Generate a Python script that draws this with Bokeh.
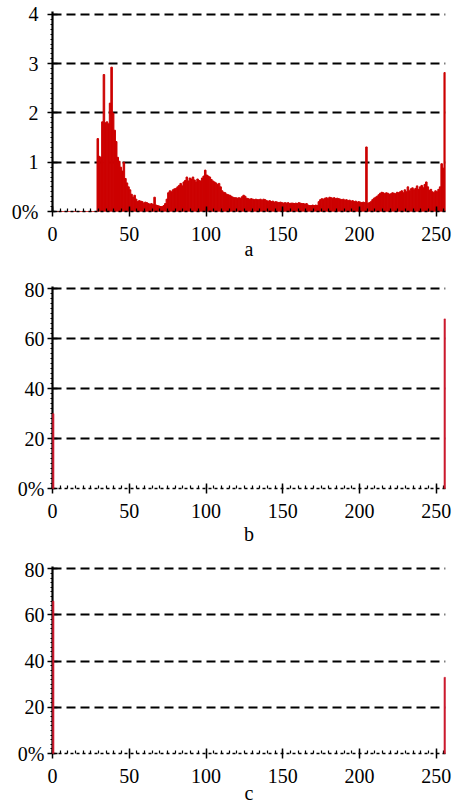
from bokeh.plotting import figure
from bokeh.layouts import column
from bokeh.models import FixedTicker, Range1d
from bokeh.embed import file_html
from bokeh.resources import INLINE

# ---------------- data (percent of pixels per grey level) ----------------
bins = list(range(256))
pct_a = [
    # 0-28
    0, 0, 0, 0, 0, 0, 0, 0, 0, 0, 0, 0, 0, 0, 0, 0, 0, 0, 0, 0,
    0, 0, 0, 0, 0, 0, 0, 0, 0,
    # 29-49
    1.48, 1.12, 1.10, 1.82, 2.78, 1.80, 1.82, 1.78, 2.20, 2.93,
    2.00, 1.65, 1.42, 1.10, 1.02, 0.90, 0.82, 1.00, 0.67, 0.58, 0.50,
    # 50-69
    0.44, 0.35, 0.29, 0.33, 0.25, 0.20, 0.22, 0.21, 0.20, 0.17,
    0.19, 0.18, 0.16, 0.15, 0.16, 0.14, 0.29, 0.13, 0.12, 0.11,
    # 70-89
    0.10, 0.10, 0.12, 0.16, 0.25, 0.38, 0.42, 0.40, 0.44, 0.46,
    0.47, 0.50, 0.53, 0.57, 0.52, 0.60, 0.63, 0.70, 0.62, 0.68,
    # 90-109
    0.66, 0.70, 0.64, 0.60, 0.66, 0.63, 0.62, 0.68, 0.72, 0.84,
    0.74, 0.72, 0.70, 0.65, 0.62, 0.60, 0.58, 0.55, 0.57, 0.50,
    # 110-129
    0.42, 0.39, 0.38, 0.35, 0.34, 0.33, 0.31, 0.29, 0.28, 0.28,
    0.27, 0.28, 0.27, 0.30, 0.33, 0.31, 0.27, 0.26, 0.25, 0.26,
    # 130-149
    0.25, 0.24, 0.25, 0.24, 0.24, 0.25, 0.23, 0.25, 0.24, 0.22,
    0.21, 0.22, 0.20, 0.21, 0.19, 0.20, 0.19, 0.18, 0.19, 0.18,
    # 150-169
    0.17, 0.18, 0.17, 0.18, 0.16, 0.17, 0.17, 0.16, 0.17, 0.16,
    0.18, 0.17, 0.16, 0.16, 0.15, 0.16, 0.13, 0.12, 0.12, 0.13,
    # 170-189
    0.12, 0.13, 0.12, 0.20, 0.24, 0.26, 0.25, 0.27, 0.28, 0.26,
    0.29, 0.28, 0.27, 0.28, 0.26, 0.27, 0.26, 0.25, 0.24, 0.25,
    # 190-209
    0.23, 0.24, 0.22, 0.23, 0.21, 0.22, 0.20, 0.21, 0.19, 0.20,
    0.19, 0.18, 0.19, 0.18, 1.31, 0.17, 0.18, 0.20, 0.24, 0.27,
    # 210-229
    0.29, 0.31, 0.34, 0.37, 0.39, 0.38, 0.36, 0.38, 0.37, 0.35,
    0.36, 0.38, 0.37, 0.36, 0.39, 0.38, 0.40, 0.42, 0.38, 0.44,
    # 230-249
    0.40, 0.50, 0.42, 0.46, 0.48, 0.44, 0.47, 0.52, 0.45, 0.50,
    0.53, 0.48, 0.55, 0.60, 0.50, 0.43, 0.45, 0.40, 0.38, 0.42,
    # 250-255
    0.40, 0.45, 0.50, 0.97, 0.88, 2.82,
]
b_bins = [0, 255]
b_pct = [30, 68]
c_bins = [0, 255]
c_pct = [66, 33]

x_ticks = [0, 50, 100, 150, 200, 250]
a_yticks = [0, 1, 2, 3, 4]
a_ylabels = ["0%", "1", "2", "3", "4"]
bc_yticks = [0, 20, 40, 60, 80]
bc_ylabels = ["0%", "20", "40", "60", "80"]
panel_labels = ["a", "b", "c"]

FONT = "'Liberation Serif', 'Times New Roman', serif"
RED_A = "#cc0000"
RED_BC = "#cc1a2e"


def make(height, top, bottom, ymax, yticks, ylabels, yminor, label,
         ystandoff, lab_standoff):
    p = figure(width=453, height=height, x_range=Range1d(0, 256),
               y_range=Range1d(0, ymax), output_backend="svg",
               toolbar_location=None, min_border_left=52,
               min_border_right=8, min_border_top=top,
               min_border_bottom=bottom)
    p.outline_line_color = None
    p.background_fill_color = "white"
    p.border_fill_color = "white"
    p.xgrid.visible = False
    p.ygrid.ticker = FixedTicker(ticks=yticks[1:])
    p.ygrid.grid_line_color = "black"
    p.ygrid.grid_line_width = 2
    p.ygrid.grid_line_dash = "9 5"

    xa = p.xaxis[0]
    xa.ticker = FixedTicker(ticks=x_ticks, minor_ticks=list(range(0, 256, 5)))
    xa.axis_line_color = "black"
    xa.axis_line_width = 1.5
    xa.axis_line_dash = "3 3"
    xa.major_tick_in = 5
    xa.major_tick_out = 5
    xa.major_tick_line_width = 1.5
    xa.minor_tick_in = 3
    xa.minor_tick_out = 0
    xa.minor_tick_line_width = 1.2
    xa.major_label_text_font = FONT
    xa.major_label_text_font_size = "20px"
    xa.major_label_text_color = "black"
    xa.major_label_standoff = 10
    xa.axis_label = label
    xa.axis_label_text_font = FONT
    xa.axis_label_text_font_size = "20px"
    xa.axis_label_text_font_style = "normal"
    xa.axis_label_text_color = "black"
    xa.axis_label_standoff = lab_standoff

    ya = p.yaxis[0]
    ya.ticker = FixedTicker(ticks=yticks, minor_ticks=yminor)
    ya.major_label_overrides = {t: s for t, s in zip(yticks, ylabels)}
    ya.axis_line_color = "black"
    ya.axis_line_width = 2.2
    ya.major_tick_in = 5
    ya.major_tick_out = 5
    ya.major_tick_line_width = 1.5
    ya.minor_tick_in = 0
    ya.minor_tick_out = 2
    ya.minor_tick_line_width = 1
    ya.major_label_text_font = FONT
    ya.major_label_text_font_size = "20px"
    ya.major_label_text_color = "black"
    ya.major_label_standoff = ystandoff
    return p


pa = make(278, 11, 67, 4.06, a_yticks, a_ylabels,
          [i / 10 for i in range(41)], panel_labels[0], 9, -6)
pa.vbar(x=[b + 0.5 for b in bins], top=pct_a, width=1,
        fill_color=RED_A, line_color=RED_A, line_width=1.0)

pb = make(280, 8, 70, 81, bc_yticks, bc_ylabels,
          list(range(0, 81, 2)), panel_labels[1], 3, 2)
pb.vbar(x=[b + 0.5 for b in b_bins], top=b_pct, width=1,
        fill_color=RED_BC, line_color=RED_BC, line_width=0.5, level="annotation")

pc = make(248, 8, 46, 81, bc_yticks, bc_ylabels,
          list(range(0, 81, 2)), panel_labels[2], 3, -4)
pc.vbar(x=[b + 0.5 for b in c_bins], top=c_pct, width=1,
        fill_color=RED_BC, line_color=RED_BC, line_width=0.5, level="annotation")

layout = column(pa, pb, pc)
open("out.html", "w").write(file_html(layout, INLINE))
